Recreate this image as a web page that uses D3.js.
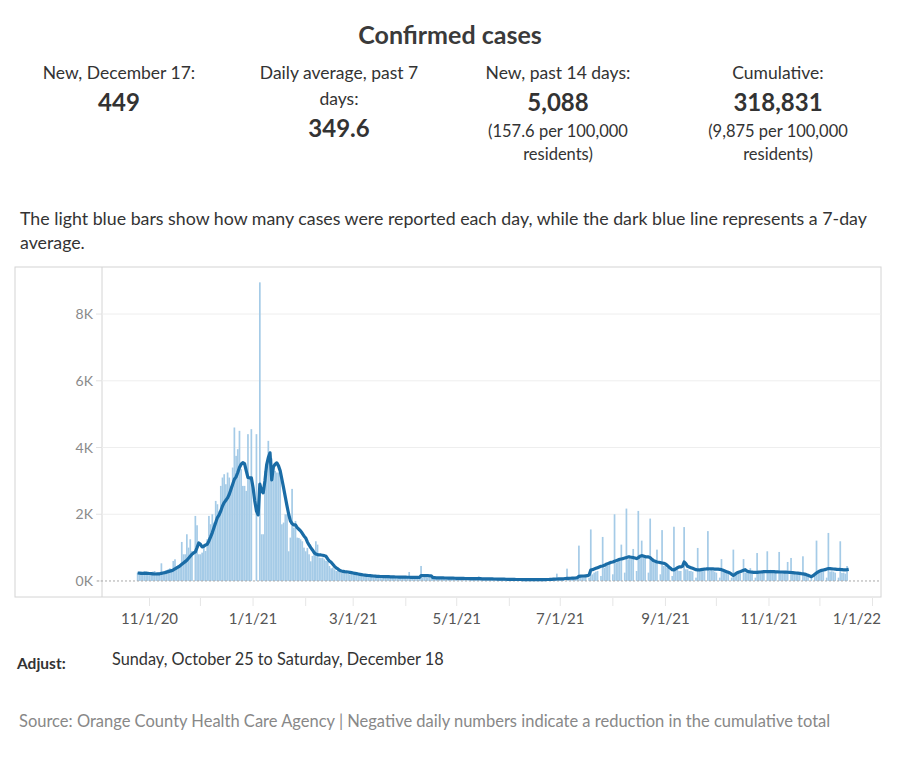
<!DOCTYPE html>
<html>
<head>
<meta charset="utf-8">
<script src="https://cdn.jsdelivr.net/npm/d3@7"></script>
<style>
  body { margin: 0; background: #fff; }
  svg text { font-family: Lato, "Open Sans", sans-serif; }
</style>
</head>
<body>
<script>
// first day of the series (Sunday, October 25, 2020), one value per day after it
var firstDay = "2020-10-25";

// daily reported cases, one row per week (Sun..Sat)
var dailyCases = [
  250, 200, 280, 260, 300, 230, 240,
  180, 220, 280, 300, 260, 250, 240,
  530, 280, 300, 320, 350, 380, 330,
  600, 650, 450, 480, 500, 1170, 800,
  800, 1400, 1000, 1250, 900, 0, 1950,
  1670, 800, 800, 850, 1100, 900, 1250,
  1950, 1700, 2000, 1750, 2400, 2300, 2100,
  2850, 3100, 3200, 2900, 3250, 3100, 2850,
  3400, 4600, 3750, 3950, 4500, 3350, 2850,
  2850, 2700, 4400, 3100, 4550, 0, 0,
  4400, 0, 8950, 1400, 1400, 3300, 3200,
  4200, 3770, 3670, 3210, 3300, 3250, 3250,
  3200, 1700, 1750, 2000, 2000, 890, 1300,
  2760, 1600, 1800, 1300, 1290, 1250, 1190,
  1000, 890, 990, 800, 590, 750, 890,
  1190, 1090, 700, 690, 700, 650, 600,
  590, 450, 380, 400, 350, 300, 330,
  280, 250, 260, 240, 230, 220, 200,
  230, 210, 250, 190, 200, 170, 150,
  140, 190, 180, 170, 160, 150, 130,
  120, 150, 150, 140, 140, 130, 120,
  110, 140, 130, 130, 125, 120, 110,
  100, 125, 120, 120, 115, 110, 270,
  90, 115, 110, 105, 100, 100, 450,
  95, 110, 105, 100, 100, 95, 90,
  80, 100, 95, 95, 90, 90, 85,
  75, 95, 90, 85, 85, 80, 75,
  70, 85, 80, 80, 75, 75, 70,
  65, 75, 75, 70, 70, 140, 60,
  55, 70, 70, 65, 65, 60, 55,
  50, 65, 60, 60, 55, 55, 50,
  40, 45, 55, 50, 50, 45, 40,
  38, 48, 45, 45, 42, 40, 35,
  35, 42, 42, 40, 40, 38, 35,
  38, 45, 45, 45, 48, 48, 42,
  50, 60, 220, 65, 65, 68, 60,
  0, 370, 90, 95, 100, 100, 90,
  80, 1060, 120, 130, 140, 150, 0,
  100, 1545, 200, 250, 280, 300, 0,
  150, 1320, 400, 450, 500, 520, 0,
  200, 2000, 550, 600, 650, 1090, 0,
  250, 2170, 650, 700, 700, 960, 0,
  300, 2100, 700, 1210, 750, 700, 0,
  250, 1870, 600, 600, 550, 940, 0,
  200, 1525, 450, 450, 400, 400, 0,
  150, 1626, 350, 350, 300, 300, 0,
  1616, 350, 350, 300, 300, 280, 0,
  100, 990, 320, 320, 300, 300, 0,
  1495, 300, 320, 300, 280, 250, 0,
  100, 656, 300, 280, 260, 250, 0,
  100, 940, 250, 240, 230, 220, 0,
  656, 250, 260, 240, 384, 230, 0,
  100, 838, 260, 250, 240, 240, 0,
  890, 270, 270, 260, 250, 250, 0,
  870, 260, 260, 250, 240, 570, 0,
  690, 250, 240, 230, 230, 220, 0,
  740, 200, 180, 170, 0, 100, 0,
  200, 1210, 300, 320, 300, 300, 0,
  100, 1440, 280, 290, 280, 250, 0,
  100, 1190, 240, 250, 220, 449, 0
];

// 7-day average as drawn by the dark line, same days
var avg7 = [
  240, 235, 230, 230, 230, 235, 230,
  225, 220, 215, 210, 210, 215, 215,
  230, 240, 250, 265, 280, 295, 310,
  330, 360, 390, 420, 460, 500, 540,
  580, 620, 680, 740, 800, 840, 870,
  1000, 1140, 1100, 1020, 1040, 1080, 1100,
  1200, 1320, 1450, 1600, 1750, 1900, 1980,
  2100, 2250, 2350, 2420, 2490, 2600, 2750,
  2900, 3050, 3120, 3250, 3400, 3500, 3550,
  3520, 3300, 3100, 3090, 3090, 2800, 2400,
  2100, 1980, 2900, 2700, 2640, 3000, 3480,
  3700, 3840, 3030, 3420, 3500, 3540, 3450,
  3300, 3050, 2790, 2520, 2250, 2000, 1800,
  1720, 1680, 1680, 1600, 1550, 1500, 1430,
  1350, 1290, 1170, 1080, 1000, 930, 850,
  810, 790, 780, 780, 770, 760, 740,
  660, 600, 560, 500, 440, 390, 360,
  320, 300, 290, 280, 275, 270, 260,
  250, 240, 230, 220, 210, 200, 190,
  180, 175, 170, 165, 160, 155, 150,
  145, 140, 140, 135, 135, 130, 130,
  130, 128, 125, 125, 122, 120, 120,
  118, 118, 115, 115, 115, 112, 112,
  110, 110, 108, 108, 106, 105, 160,
  160, 160, 158, 158, 155, 155, 100,
  98, 96, 95, 95, 94, 92, 90,
  90, 88, 86, 85, 84, 82, 80,
  80, 78, 78, 76, 75, 75, 74,
  72, 72, 70, 70, 70, 68, 68,
  66, 66, 65, 64, 64, 62, 62,
  60, 60, 58, 58, 56, 55, 55,
  52, 50, 50, 48, 48, 46, 45,
  45, 44, 44, 42, 42, 40, 40,
  40, 38, 40, 42, 40, 38, 38,
  40, 42, 42, 44, 45, 46, 48,
  55, 58, 60, 62, 62, 64, 66,
  75, 78, 80, 82, 85, 88, 90,
  100, 140, 145, 150, 150, 155, 160,
  180, 330, 340, 360, 380, 400, 420,
  440, 450, 470, 500, 520, 540, 560,
  570, 590, 610, 630, 650, 660, 670,
  690, 700, 720, 720, 710, 700, 690,
  670, 700, 740, 760, 750, 730, 720,
  720, 700, 650, 610, 590, 570, 560,
  550, 540, 530, 510, 470, 420, 380,
  340, 330, 360, 400, 420, 420, 440,
  570, 520, 440, 420, 400, 380, 360,
  340, 330, 330, 340, 350, 355, 360,
  360, 360, 360, 360, 358, 358, 356,
  350, 340, 320, 300, 280, 260, 240,
  200, 170, 200, 240, 260, 280, 300,
  320, 340, 300, 280, 270, 265, 260,
  260, 260, 265, 270, 275, 280, 280,
  280, 280, 285, 280, 280, 275, 275,
  270, 270, 270, 268, 265, 262, 260,
  255, 250, 245, 240, 235, 230, 220,
  215, 205, 190, 170, 150, 130, 160,
  200, 240, 270, 300, 320, 330, 340,
  360, 370, 370, 365, 360, 355, 350,
  345, 345, 340, 335, 335, 340, 349.6
];

var yTicks = [0, 2000, 4000, 6000, 8000];
var yTickLabels = ["0K", "2K", "4K", "6K", "8K"];
var xTickLabels = ["11/1/20", "1/1/21", "3/1/21", "5/1/21", "7/1/21", "9/1/21", "11/1/21", "1/1/22"];

var title = "Confirmed cases";
var statLabels = [["New, December 17:"], ["Daily average, past 7", "days:"], ["New, past 14 days:"], ["Cumulative:"]];
var statValues = ["449", "349.6", "5,088", "318,831"];
var statNotes = [[], [], ["(157.6 per 100,000", "residents)"], ["(9,875 per 100,000", "residents)"]];
var description = ["The light blue bars show how many cases were reported each day, while the dark blue line represents a 7-day", "average."];
var adjustText = "Sunday, October 25 to Saturday, December 18";
var sourceText = "Source: Orange County Health Care Agency | Negative daily numbers indicate a reduction in the cumulative total";

var width = 897, height = 768;
var frame = {left: 15, axisRight: 102, right: 881, top: 267, bottom: 597};

var svg = d3.select("body").append("svg")
    .attr("width", width)
    .attr("height", height);

// header
svg.append("text")
    .attr("x", 450).attr("y", 44)
    .attr("text-anchor", "middle")
    .attr("font-size", 25).attr("font-weight", 700)
    .attr("fill", "#3a3a3a")
    .text(title);

var colX = [119, 339, 558, 778];
statLabels.forEach(function(lines, i) {
  var g = svg.append("g").attr("text-anchor", "middle").attr("fill", "#333");
  lines.forEach(function(t, j) {
    g.append("text").attr("x", colX[i]).attr("y", 79 + j * 26)
      .attr("font-size", 17.5).text(t);
  });
  var vy = 111 + (lines.length - 1) * 26;
  g.append("text").attr("x", colX[i]).attr("y", vy)
    .attr("font-size", 24).attr("font-weight", 700).text(statValues[i]);
  statNotes[i].forEach(function(t, j) {
    g.append("text").attr("x", colX[i]).attr("y", 137 + j * 23)
      .attr("font-size", 16.5).text(t);
  });
});

description.forEach(function(t, j) {
  svg.append("text").attr("x", 20).attr("y", 225 + j * 24)
    .attr("font-size", 17.8).attr("fill", "#333").text(t);
});

// scales
var parseDay = d3.timeParse("%Y-%m-%d");
var parseTick = d3.timeParse("%m/%d/%y");
var day0 = parseDay(firstDay);
var days = dailyCases.map(function(v, i) {
  return {date: d3.timeDay.offset(day0, i), cases: v, avg: avg7[i]};
});

var x = d3.scaleTime()
    .domain([new Date(2020, 9, 4), new Date(2022, 0, 6)])
    .range([frame.axisRight, frame.right]);
var y = d3.scaleLinear()
    .domain([-480, 9410])
    .range([frame.bottom, frame.top]);

// frame
svg.append("rect")
    .attr("x", frame.left).attr("y", frame.top)
    .attr("width", frame.right - frame.left).attr("height", frame.bottom - frame.top)
    .attr("fill", "none").attr("stroke", "#d4d4d4");
svg.append("line")
    .attr("x1", frame.axisRight).attr("x2", frame.axisRight)
    .attr("y1", frame.top).attr("y2", frame.bottom)
    .attr("stroke", "#d4d4d4");

// gridlines + y labels
yTicks.forEach(function(t, i) {
  if (t > 0) {
    svg.append("line")
      .attr("x1", frame.axisRight).attr("x2", frame.right)
      .attr("y1", y(t)).attr("y2", y(t))
      .attr("stroke", "#eeeeee");
  }
  svg.append("line")
    .attr("x1", frame.axisRight - 6).attr("x2", frame.axisRight)
    .attr("y1", y(t)).attr("y2", y(t))
    .attr("stroke", "#e2e2e2");
  svg.append("text")
    .attr("x", 93).attr("y", y(t) + 5)
    .attr("text-anchor", "end")
    .attr("font-size", 14).attr("fill", "#8a8a8a")
    .text(yTickLabels[i]);
});

// bars
svg.append("g").selectAll("rect")
    .data(days.filter(function(d) { return d.cases > 0; }))
  .enter().append("rect")
    .attr("x", function(d) { return x(d.date) - 0.85; })
    .attr("width", 1.7)
    .attr("y", function(d) { return y(d.cases); })
    .attr("height", function(d) { return y(0) - y(d.cases); })
    .attr("fill", "#a5cbe7");

// zero line
svg.append("line")
    .attr("x1", frame.axisRight - 5).attr("x2", frame.right)
    .attr("y1", y(0)).attr("y2", y(0))
    .attr("stroke", "#a8a8a8").attr("stroke-dasharray", "2,2");

// 7-day average
var valueline = d3.line()
    .x(function(d) { return x(d.date); })
    .y(function(d) { return y(d.avg); });

svg.append("path")
    .datum(days)
    .attr("fill", "none")
    .attr("stroke", "#1a6ca6")
    .attr("stroke-width", 3.2)
    .attr("stroke-linejoin", "round")
    .attr("d", valueline);

// x axis: monthly ticks, labels every other month
x.ticks(d3.timeMonth.every(1)).forEach(function(t) {
  svg.append("line")
    .attr("x1", x(t)).attr("x2", x(t))
    .attr("y1", frame.bottom + 1).attr("y2", frame.bottom + 9)
    .attr("stroke", "#e6e6e6");
});
xTickLabels.forEach(function(s, i) {
  var last = i === xTickLabels.length - 1;
  svg.append("text")
    .attr("x", last ? frame.right : x(parseTick(s))).attr("y", 624)
    .attr("text-anchor", last ? "end" : "middle")
    .attr("font-size", 15).attr("fill", "#555")
    .text(s);
});

// filter + source
svg.append("text").attr("x", 17).attr("y", 669)
    .attr("font-size", 15.5).attr("font-weight", 700).attr("fill", "#333")
    .text("Adjust:");
svg.append("text").attr("x", 112).attr("y", 665)
    .attr("font-size", 16.3).attr("fill", "#333")
    .text(adjustText);
svg.append("text").attr("x", 19).attr("y", 727)
    .attr("font-size", 16.5).attr("fill", "#888")
    .text(sourceText);
</script>
</body>
</html>
